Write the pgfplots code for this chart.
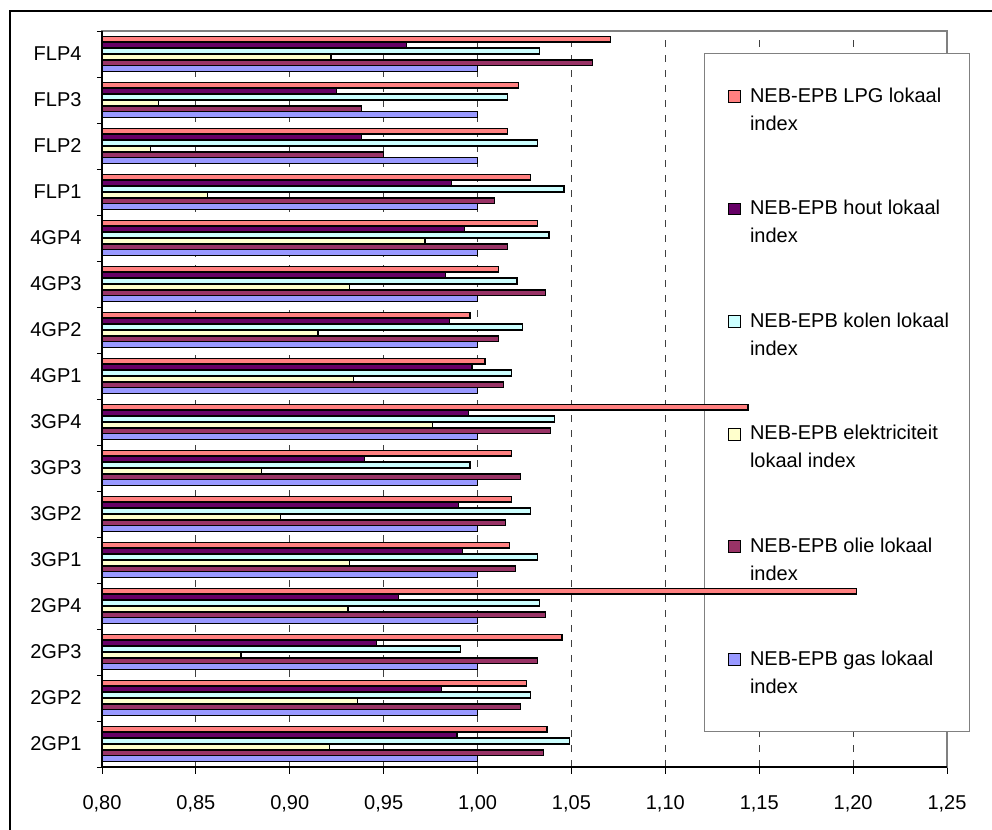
\documentclass[border=0pt]{standalone}
\usepackage{fontspec}
\setmainfont{Liberation Sans}
\usepackage{pgfplots}
\usepackage{pgfplotstable}
\pgfplotsset{compat=1.18}

\definecolor{cLPG}{HTML}{FF8080}
\definecolor{cHout}{HTML}{660066}
\definecolor{cKolen}{HTML}{CCFFFF}
\definecolor{cElek}{HTML}{FFFFCC}
\definecolor{cOlie}{HTML}{993366}
\definecolor{cGas}{HTML}{9999FF}
\definecolor{frameGray}{HTML}{808080}

% idx: 0 = 2GP1 ... 15 = FLP4
\pgfplotstableread{
idx lpg   hout  kolen elek  olie  gas
0   1.037 0.989 1.049 0.921 1.035 1.000
1   1.026 0.981 1.028 0.936 1.023 1.000
2   1.045 0.946 0.991 0.874 1.032 1.000
3   1.202 0.958 1.033 0.931 1.036 1.000
4   1.017 0.992 1.032 0.932 1.020 1.000
5   1.018 0.990 1.028 0.895 1.015 1.000
6   1.018 0.940 0.996 0.885 1.023 1.000
7   1.144 0.995 1.041 0.976 1.039 1.000
8   1.004 0.997 1.018 0.934 1.014 1.000
9   0.996 0.985 1.024 0.915 1.011 1.000
10  1.011 0.983 1.021 0.932 1.036 1.000
11  1.032 0.993 1.038 0.972 1.016 1.000
12  1.028 0.986 1.046 0.856 1.009 1.000
13  1.016 0.938 1.032 0.826 0.950 1.000
14  1.022 0.925 1.016 0.830 0.938 1.000
15  1.071 0.962 1.033 0.922 1.061 1.000
}\indextable

% two-line legend text, lines kept whole
\newcommand{\lbl}[2]{\parbox[t]{195pt}{\mbox{#1}\\\mbox{#2}}}
\newcommand{\labelfont}{\fontsize{20}{24}\selectfont}

\pgfplotsset{
  frame geometry/.style={
    at={(102pt,62pt)}, anchor=south west,
    scale only axis, width=845pt, height=736pt,
    xmin=0.80, xmax=1.25, ymin=-0.5, ymax=15.5,
  },
}

\begin{document}
\begin{tikzpicture}
\path[use as bounding box] (0pt,0pt) rectangle (992pt,829pt);
\draw[line width=2pt] (10pt,-10pt) rectangle (1005pt,818pt);

% frame, grid, ticks and legend
\begin{axis}[
  name=chart,
  frame geometry,
  font=\labelfont,
  axis line style={draw=frameGray, line width=1.2pt},
  tick pos=left, tick align=outside,
  major tick length=7pt, minor tick length=5pt,
  tick style={black, line width=0.9pt},
  xtick={0.8,0.85,0.9,0.95,1,1.05,1.1,1.15,1.2,1.25},
  minor xtick={0.85,0.9,0.95,1,1.05,1.1,1.15,1.2},
  minor x tick style={draw=none},
  xminorgrids,
  minor grid style={black!75, line width=0.8pt, dash pattern=on 7pt off 8pt},
  scaled x ticks=false,
  xticklabel style={
    font=\labelfont, yshift=-18pt,
    /pgf/number format/fixed, /pgf/number format/fixed zerofill,
    /pgf/number format/precision=2, /pgf/number format/use comma,
    /pgf/number format/assume math mode=true},
  ytick={0,...,15},
  yticklabels={2GP1,2GP2,2GP3,2GP4,3GP1,3GP2,3GP3,3GP4,4GP1,4GP2,4GP3,4GP4,FLP1,FLP2,FLP3,FLP4},
  major y tick style={draw=none},
  minor ytick={-0.5,0.5,1.5,2.5,3.5,4.5,5.5,6.5,7.5,8.5,9.5,10.5,11.5,12.5,13.5,14.5,15.5},
  yticklabel style={font=\labelfont, xshift=-10pt},
  legend image code/.code={\draw[#1, line width=0.9pt] (0pt,0pt) rectangle (11.7pt,11.7pt);},
  legend style={
    at={(axis description cs:0.7124,0.9701)}, anchor=north west,
    draw=frameGray, line width=0.9pt, fill=white,
    inner xsep=24pt, inner ysep=33.7pt,
    row sep=65pt, column sep=9pt,
    font=\fontsize{20}{28}\selectfont,
    nodes={inner sep=0pt, text height=15pt, text depth=32.6pt},
    cells={anchor=base west},
  },
]
\addlegendimage{fill=cLPG, draw=black}
\addlegendentry{\lbl{NEB-EPB LPG lokaal}{index}}
\addlegendimage{fill=cHout, draw=black}
\addlegendentry{\lbl{NEB-EPB hout lokaal}{index}}
\addlegendimage{fill=cKolen, draw=black}
\addlegendentry{\lbl{NEB-EPB kolen lokaal}{index}}
\addlegendimage{fill=cElek, draw=black}
\addlegendentry{\lbl{NEB-EPB elektriciteit}{lokaal index}}
\addlegendimage{fill=cOlie, draw=black}
\addlegendentry{\lbl{NEB-EPB olie lokaal}{index}}
\addlegendimage{fill=cGas, draw=black}
\addlegendentry{\lbl{NEB-EPB gas lokaal}{index}}
\end{axis}

% the bars, drawn over the legend box
\begin{axis}[
  frame geometry,
  hide axis,
  xbar, bar width=5.95pt,
  every axis plot/.append style={draw=black, line width=1.2pt},
]
\addplot[fill=cLPG,   bar shift=14.875pt]  table[x=lpg,   y=idx] {\indextable};
\addplot[fill=cHout,  bar shift=8.925pt]   table[x=hout,  y=idx] {\indextable};
\addplot[fill=cKolen, bar shift=2.975pt]   table[x=kolen, y=idx] {\indextable};
\addplot[fill=cElek,  bar shift=-2.975pt]  table[x=elek,  y=idx] {\indextable};
\addplot[fill=cOlie,  bar shift=-8.925pt]  table[x=olie,  y=idx] {\indextable};
\addplot[fill=cGas,   bar shift=-14.875pt] table[x=gas,   y=idx] {\indextable};
\end{axis}

% value axes in black on the left and bottom edges
\draw[black, line width=1.2pt] (chart.north west) -- (chart.south west) -- (chart.south east);
\end{tikzpicture}
\end{document}
